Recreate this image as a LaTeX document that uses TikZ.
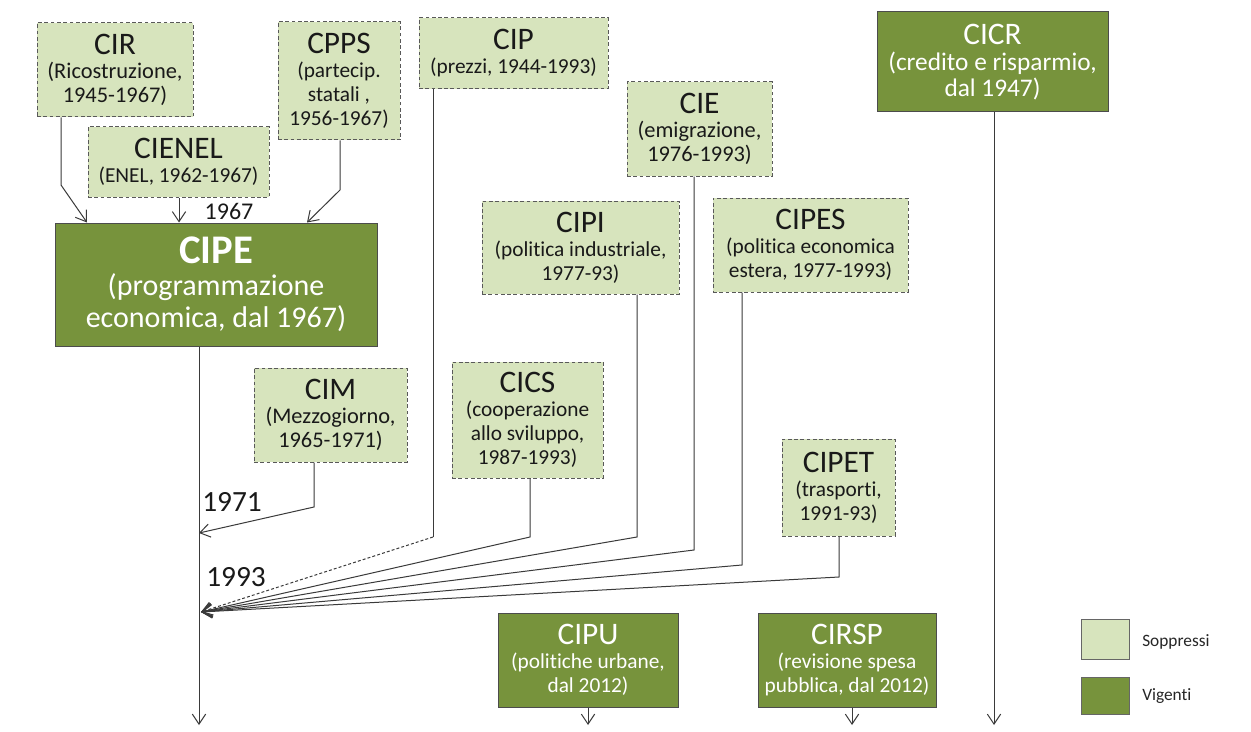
\documentclass[tikz,border=0pt]{standalone}
\usepackage{fontspec}
\setmainfont{Carlito}[Ligatures={NoCommon}]
\usetikzlibrary{arrows.meta}
\definecolor{lightg}{HTML}{D7E4BD}
\definecolor{darkg}{HTML}{77933C}
\definecolor{linec}{HTML}{3A3A3A}
\newcommand\ttlf{\fontsize{23.5}{27}\selectfont}
\newcommand\subf{\fontsize{16}{18}\selectfont}
\newcommand\subbig{\fontsize{16.8}{18}\selectfont}
\newcommand\cipettl{\bfseries\fontsize{30.5}{34}\selectfont}
\newcommand\cipesub{\fontsize{22.5}{24}\selectfont}
\newcommand\cicrttl{\fontsize{23.5}{27}\selectfont}
\newcommand\cicrsub{\fontsize{19}{19.5}\selectfont}
\newcommand\newsub{\fontsize{16}{18}\selectfont}
\newcommand\yearf{\fontsize{22}{26}\selectfont}
\newcommand\yearsm{\fontsize{18}{22}\selectfont}
\newcommand\legf{\fontsize{13}{15}\selectfont}
\begin{document}
\begin{tikzpicture}[x=0.75pt,y=-0.75pt,
  sz/.style 2 args={minimum width=#1*0.75pt, minimum height=#2*0.75pt},
  soppr/.style={draw=black!65, dash pattern=on 2.8pt off 1.9pt, fill=lightg, line width=0.75pt, align=center, inner sep=0pt, text=black!90, font=\subf},
  vig/.style={draw=black!70, fill=darkg, line width=0.75pt, align=center, inner sep=0pt, text=white, font=\subf},
  legbox/.style={draw=black!60, line width=0.75pt, inner sep=0pt},
  conn/.style={draw=linec, line width=0.75pt, -{Straight Barb[length=7.5pt,width=10pt]}},
  yearlab/.style={inner sep=0pt, text=black!90}]
\useasboundingbox (0,0) rectangle (1251,731);
\fill[white] (0,0) rectangle (1251,731);

% boxes
\node[soppr, sz={156}{94}, font=\subbig] (cir) at (115,70) {{\ttlf CIR}\\(Ricostruzione,\\1945-1967)};
\node[soppr, sz={122}{118}] (cpps) at (339,81) {{\ttlf CPPS}\\(partecip.\\statali ,\\1956-1967)};
\node[soppr, sz={181}{70}] (cienel) at (178.5,162) {{\ttlf CIENEL}\\(ENEL, 1962-1967)};
\node[vig, sz={322}{123}, font=\cipesub] (cipe) at (216,284.5) {{\cipettl CIPE}\\(programmazione\\economica, dal 1967)};
\node[soppr, sz={189}{71}] (cip) at (513.5,53.5) {{\ttlf CIP}\\(prezzi, 1944-1993)};
\node[soppr, sz={145}{94}, font=\subbig] (cie) at (699.5,129) {{\ttlf CIE}\\(emigrazione,\\1976-1993)};
\node[vig, sz={231}{100}, font=\cicrsub] (cicr) at (992.5,62) {{\cicrttl CICR}\\(credito e risparmio,\\dal 1947)};
\node[soppr, sz={197}{93}] (cipi) at (580.5,247.5) {{\ttlf CIPI}\\(politica industriale,\\1977-93)};
\node[soppr, sz={195}{94}] (cipes) at (810.5,245) {{\ttlf CIPES}\\(politica economica\\estera, 1977-1993)};
\node[soppr, sz={153}{94}, font=\subbig] (cim) at (330.5,415) {{\ttlf CIM}\\(Mezzogiorno,\\1965-1971)};
\node[soppr, sz={151}{116}] (cics) at (527.5,420) {{\ttlf CICS}\\(cooperazione\\allo sviluppo,\\1987-1993)};
\node[soppr, sz={113}{97}] (cipet) at (838.5,487.5) {{\ttlf CIPET}\\(trasporti,\\1991-93)};
\node[vig, sz={180}{94}, font=\newsub] (cipu) at (588,660) {{\ttlf CIPU}\\(politiche urbane,\\dal 2012)};
\node[vig, sz={178}{94}, font=\newsub] (cirsp) at (847,660) {{\ttlf CIRSP}\\(revisione spesa\\pubblica, dal 2012)};

% legend
\node[legbox, fill=lightg, sz={48}{40}] (legs) at (1105,639) {};
\node[legbox, fill=darkg, sz={48}{37}] (legv) at (1105,695.5) {};
\node[anchor=west, inner sep=0pt, font=\legf, text=black!85] (legst) at (1142,642) {Soppressi};
\node[anchor=west, inner sep=0pt, font=\legf, text=black!85] (legvt) at (1142,696) {Vigenti};

% year labels
\node[yearlab, font=\yearsm] (y67) at (229,211) {1967};
\node[yearlab, font=\yearf] (y71) at (232,502) {1971};
\node[yearlab, font=\yearf] (y93) at (236,577) {1993};

% coordinates
\coordinate (cirb) at (61,185);
\coordinate (cirt) at (87,0);
\coordinate (cienelx) at (179,0);
\coordinate (cppsb) at (340,190);
\coordinate (cppst) at (307,0);
\coordinate (cipex) at (199,0);
\coordinate (cipeend) at (199,725);
\coordinate (cimb) at (314,507);
\coordinate (cimt) at (199,533);
\coordinate (conv) at (201,612);
\coordinate (cipb) at (433,537);
\coordinate (cicsb) at (530,537);
\coordinate (cipib) at (637,537);
\coordinate (cieb) at (694,550);
\coordinate (cipesb) at (742,565);
\coordinate (cipetb) at (839,577);
\coordinate (cicrx) at (994,0);
\coordinate (cicrend) at (994,725);
\coordinate (cipuend) at (588,725);
\coordinate (cirspx) at (852,0);
\coordinate (cirspend) at (852,725);

% connectors
\draw[conn] (cirb |- cir.south) -- (cirb) -- (cirt |- cipe.north);
\draw[conn] (cienelx |- cienel.south) -- (cienelx |- cipe.north);
\draw[conn] (cppsb |- cpps.south) -- (cppsb) -- (cppst |- cipe.north);
\draw[conn] (cipex |- cipe.south) -- (cipeend);
\draw[conn] (cimb |- cim.south) -- (cimb) -- (cimt);
\draw[draw=linec, line width=0.75pt] (cipb |- cip.south) -- (cipb);
\draw[conn, dash pattern=on 2.2pt off 1.6pt] (cipb) -- (conv);
\draw[conn] (cicsb |- cics.south) -- (cicsb) -- (conv);
\draw[conn] (cipib |- cipi.south) -- (cipib) -- (conv);
\draw[conn] (cieb |- cie.south) -- (cieb) -- (conv);
\draw[conn] (cipesb |- cipes.south) -- (cipesb) -- (conv);
\draw[conn] (cipetb |- cipet.south) -- (cipetb) -- (conv);
\draw[conn] (cicrx |- cicr.south) -- (cicrend);
\draw[conn] (cipu.south) -- (cipuend);
\draw[conn] (cirspx |- cirsp.south) -- (cirspend);
\end{tikzpicture}
\end{document}
